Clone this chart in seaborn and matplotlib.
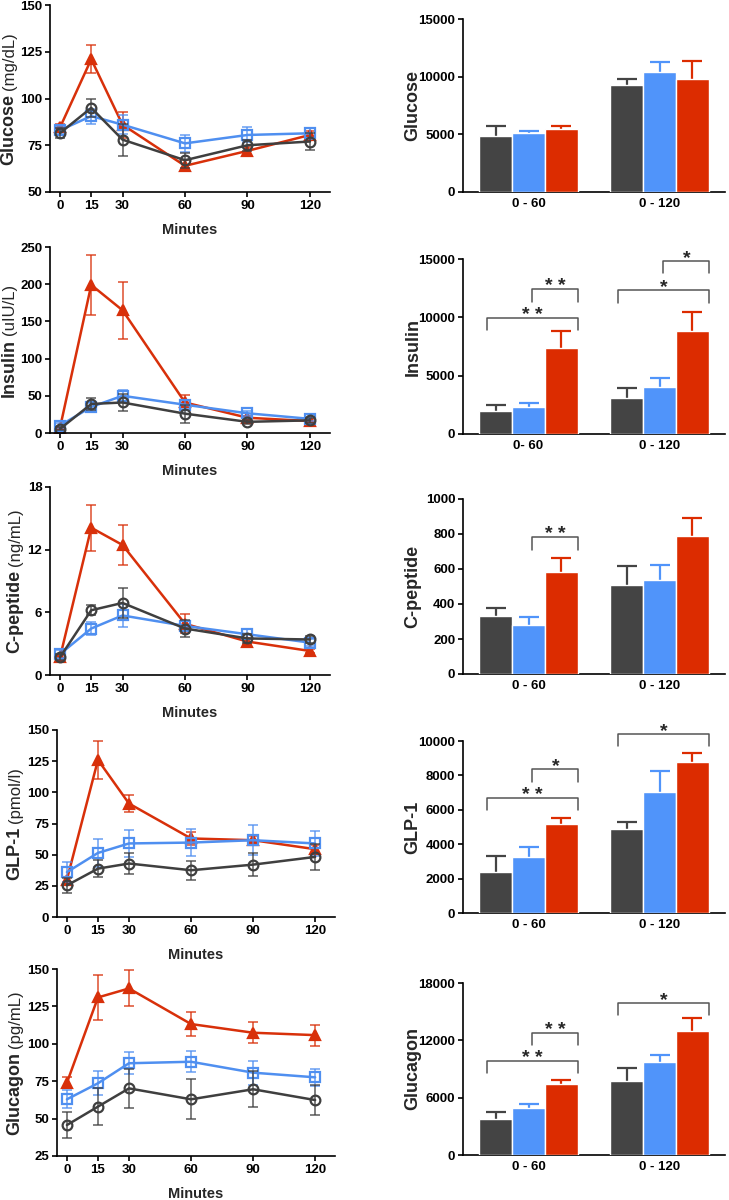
import matplotlib
matplotlib.use("Agg")
import matplotlib.pyplot as plt
import seaborn as sns
import numpy as np
import pandas as pd

sns.set_style("ticks")
plt.rcParams["font.family"] = ["Liberation Sans", "DejaVu Sans"]
plt.rcParams["font.weight"] = "bold"

minutes = [0, 15, 30, 60, 90, 120]
groups = ["grey", "blue", "red"]
colors = {"grey": "#3f3f3f", "blue": "#4f8ff0", "red": "#d8300a"}
bar_colors = {"grey": "#444444", "blue": "#5094fa", "red": "#dc2c00"}

# time courses: mean and error per group
glu_grey = [81.5, 95, 78, 67, 75, 77]
glu_grey_err = [2.5, 5, 8.5, 4, 3, 4.5]
glu_blue = [83, 90.6, 86, 76, 80.5, 81.4]
glu_blue_err = [2, 4, 5, 4.5, 4, 3]
glu_red = [84.5, 121, 86, 64, 72, 80.5]
glu_red_err = [2, 7.5, 7, 3, 2, 2]

ins_grey = [5.5, 39, 41, 26, 15, 17]
ins_grey_err = [2, 8, 12, 12, 3, 3]
ins_blue = [10, 35, 50, 38, 26.5, 19]
ins_blue_err = [3, 5, 8, 6, 3, 3]
ins_red = [7, 199, 165, 41, 20.5, 16]
ins_red_err = [2, 40, 38, 10, 3, 3]

cp_grey = [1.7, 6.2, 6.9, 4.45, 3.5, 3.4]
cp_grey_err = [0.3, 0.5, 1.4, 0.8, 0.4, 0.3]
cp_blue = [2.0, 4.45, 5.7, 4.7, 3.9, 3.1]
cp_blue_err = [0.4, 0.6, 1.1, 0.5, 0.5, 0.3]
cp_red = [1.7, 14.1, 12.45, 4.9, 3.2, 2.3]
cp_red_err = [0.2, 2.2, 1.9, 0.9, 0.3, 0.2]

glp_grey = [25.4, 38.8, 42.9, 37.5, 42, 48.2]
glp_grey_err = [6, 7, 8.5, 7.5, 9, 10.5]
glp_blue = [36, 51.4, 59, 59.7, 61.6, 59]
glp_blue_err = [8, 11, 10.5, 11, 12, 10]
glp_red = [30, 126, 91, 63, 61.6, 54.4]
glp_red_err = [2, 15, 6.5, 5, 3, 3]

gcg_grey = [45.7, 58, 70.2, 62.9, 69.6, 62.4]
gcg_grey_err = [9, 12.5, 13, 13.5, 12, 10]
gcg_blue = [62.9, 73.6, 87, 88, 80.7, 77.6]
gcg_blue_err = [6, 8, 7.5, 7, 8, 5.5]
gcg_red = [74, 131, 137, 113.2, 107.4, 105.8]
gcg_red_err = [3.5, 15, 12, 8, 7, 7]

# areas under the curve
periods = ["0 - 60", "0 - 120"]
periods_ins = ["0- 60", "0 - 120"]

glu_auc = {"grey": [4836, 9267], "blue": [5126, 10426], "red": [5502, 9760]}
glu_auc_err = {"grey": [870, 520], "blue": [175, 810], "red": [230, 1620]}
ins_auc = {"grey": [2000, 3057], "blue": [2343, 4057], "red": [7400, 8829]}
ins_auc_err = {"grey": [490, 890], "blue": [340, 710], "red": [1460, 1600]}
cp_auc = {"grey": [329, 511], "blue": [278, 538], "red": [582, 791]}
cp_auc_err = {"grey": [51, 107], "blue": [47, 86], "red": [78, 103]}
glp_auc = {"grey": [2355, 4884], "blue": [3282, 7008], "red": [5154, 8784]}
glp_auc_err = {"grey": [930, 425], "blue": [580, 1220], "red": [390, 540]}
gcg_auc = {"grey": [3761, 7730], "blue": [4910, 9716], "red": [7381, 13024]}
gcg_auc_err = {"grey": [700, 1390], "blue": [380, 770], "red": [520, 1360]}

# significance brackets: (period index, from bar, to bar, height, label)
ins_sig = [(0, 0, 2, 9971, "* *"), (0, 1, 2, 12429, "* *"), (1, 0, 2, 12343, "*"), (1, 1, 2, 14857, "*")]
cp_sig = [(0, 1, 2, 781, "* *")]
glp_sig = [(0, 0, 2, 6699, "* *"), (0, 1, 2, 8359, "*"), (1, 0, 2, 10425, "*")]
gcg_sig = [(0, 0, 2, 9856, "* *"), (0, 1, 2, 12815, "* *"), (1, 0, 2, 15947, "*")]

W, H = 729, 1200
fig = plt.figure(figsize=(W / 100, H / 100), dpi=100)


def add_ax(x0, x1, top, bottom):
    return fig.add_axes([x0 / W, 1 - bottom / H, (x1 - x0) / W, (bottom - top) / H])


def style(ax):
    sns.despine(ax=ax)
    for s in ["left", "bottom"]:
        ax.spines[s].set_linewidth(1.2)
        ax.spines[s].set_color("black")
    ax.tick_params(width=1.2, length=3.5, pad=2, labelsize=9.5, colors="black")


def line_panel(ax, data, ylim, yticks):
    markers = {"grey": "o", "blue": "s", "red": "^"}
    for g in ["red", "blue", "grey"]:
        vals, errs = data[g]
        col = colors[g]
        ax.errorbar(minutes, vals, yerr=errs, fmt="none", ecolor=col, elinewidth=1.1,
                    capsize=3.5, capthick=1.1, alpha=0.85)
        sns.lineplot(x=minutes, y=vals, ax=ax, color=col, marker=markers[g],
                     markersize=7 if g != "red" else 7.5,
                     markerfacecolor=col if g == "red" else "none",
                     markeredgecolor=col, markeredgewidth=1.6, linewidth=1.8)
    ax.set_xlim(-4.8, 129.6)
    ax.set_ylim(*ylim)
    ax.set_xticks(minutes)
    ax.set_yticks(yticks)
    ax.set_xlabel("Minutes", fontsize=10.5, fontweight="bold", labelpad=8)
    ax.set_ylabel("")
    style(ax)


def bar_panel(ax, auc, auc_err, per, ylim, yticks, sig):
    rows = [(p, g, auc[g][k]) for g in groups for k, p in enumerate(per)]
    df = pd.DataFrame(rows, columns=["period", "group", "value"])
    sns.barplot(data=df, x="period", y="value", hue="group", hue_order=groups,
                palette=bar_colors, width=0.75, errorbar=None, legend=False,
                saturation=1, ax=ax, zorder=3)
    centers = []
    for cont, g in zip(ax.containers, groups):
        xs = [b.get_x() + b.get_width() / 2 for b in cont]
        ys = [b.get_height() for b in cont]
        centers.append(xs)
        eb = ax.errorbar(xs, ys, yerr=[np.zeros(len(xs)), auc_err[g]], fmt="none",
                         ecolor=bar_colors[g], elinewidth=1.6, capsize=7.5, capthick=1.6, zorder=2)
        eb[1][0].set_visible(False)  # only the upper cap
    drop = 0.072 * (ylim[1] - ylim[0])
    lofs = [-0.07, 0.03]
    for k, i, j, y, lab in sig:
        xl = centers[i][k] + lofs[i]
        xr = centers[j][k] + 0.13
        ax.plot([xl, xl, xr, xr], [y - drop, y, y, y - drop], color="#555555", lw=1.1,
                clip_on=False)
        ax.annotate(lab, ((xl + xr) / 2, y), xytext=(0, -1.5), textcoords="offset points",
                    ha="center", va="baseline", fontsize=14, annotation_clip=False)
    ax.set_xlim(-0.5, 1.5)
    ax.set_ylim(*ylim)
    ax.set_yticks(yticks)
    ax.set_xlabel("")
    ax.set_ylabel("")
    style(ax)
    ax.tick_params(axis="x", length=0, pad=4)


left_pos = [(50, 330, 5, 192), (50, 330, 247, 433), (50, 330, 487, 675),
            (57, 335, 730, 917), (57, 335, 969, 1156)]
right_pos = [(463, 725, 19, 192), (463, 725, 259, 434), (463, 725, 499, 674),
             (463, 725, 741, 913), (463, 725, 983, 1155)]

line_specs = [
    ({"grey": (glu_grey, glu_grey_err), "blue": (glu_blue, glu_blue_err), "red": (glu_red, glu_red_err)},
     (50, 150), [50, 75, 100, 125, 150], "Glucose", "(mg/dL)", 9),
    ({"grey": (ins_grey, ins_grey_err), "blue": (ins_blue, ins_blue_err), "red": (ins_red, ins_red_err)},
     (0, 250), [0, 50, 100, 150, 200, 250], "Insulin", "(uIU/L)", 9),
    ({"grey": (cp_grey, cp_grey_err), "blue": (cp_blue, cp_blue_err), "red": (cp_red, cp_red_err)},
     (0, 18), [0, 6, 12, 18], "C-peptide", "(ng/mL)", 15),
    ({"grey": (glp_grey, glp_grey_err), "blue": (glp_blue, glp_blue_err), "red": (glp_red, glp_red_err)},
     (0, 150), [0, 25, 50, 75, 100, 125, 150], "GLP-1", "(pmol/l)", 15),
    ({"grey": (gcg_grey, gcg_grey_err), "blue": (gcg_blue, gcg_blue_err), "red": (gcg_red, gcg_red_err)},
     (25, 150), [25, 50, 75, 100, 125, 150], "Glucagon", "(pg/mL)", 15),
]

bar_specs = [
    (glu_auc, glu_auc_err, periods, (0, 15000), [0, 5000, 10000, 15000], [], "Glucose"),
    (ins_auc, ins_auc_err, periods_ins, (0, 15000), [0, 5000, 10000, 15000], ins_sig, "Insulin"),
    (cp_auc, cp_auc_err, periods, (0, 1000), [0, 200, 400, 600, 800, 1000], cp_sig, "C-peptide"),
    (glp_auc, glp_auc_err, periods, (0, 10000), [0, 2000, 4000, 6000, 8000, 10000], glp_sig, "GLP-1"),
    (gcg_auc, gcg_auc_err, periods, (0, 18000), [0, 6000, 12000, 18000], gcg_sig, "Glucagon"),
]

left_axes = []
for pos, (data, ylim, yt, name, unit, lx) in zip(left_pos, line_specs):
    ax = add_ax(*pos)
    line_panel(ax, data, ylim, yt)
    left_axes.append((ax, name, unit, lx))

for pos, (auc, err, per, ylim, yt, sig, name) in zip(right_pos, bar_specs):
    ax = add_ax(*pos)
    bar_panel(ax, auc, err, per, ylim, yt, sig)
    yc = 1 - (pos[2] + pos[3]) / 2 / H
    fig.text(413 / W, yc, name, rotation=90, fontsize=13, fontweight="bold",
             ha="center", va="center")

# left y labels: bold name followed by plain unit
fig.canvas.draw()
r = fig.canvas.get_renderer()
for ax, name, unit, lx in left_axes:
    t1 = fig.text(0, 0, name, rotation=90, fontsize=13, fontweight="bold", ha="center", va="bottom")
    t2 = fig.text(0, 0, unit, rotation=90, fontsize=12, fontweight="normal", ha="center", va="bottom")
    h1 = t1.get_window_extent(r).height
    h2 = t2.get_window_extent(r).height
    gap = 4
    bb = ax.get_window_extent(r)
    y0 = (bb.y0 + bb.y1) / 2 - (h1 + gap + h2) / 2
    t1.set_position((lx / W, y0 / H))
    t2.set_position((lx / W, (y0 + h1 + gap) / H))

fig.savefig("out.png", dpi=100)
